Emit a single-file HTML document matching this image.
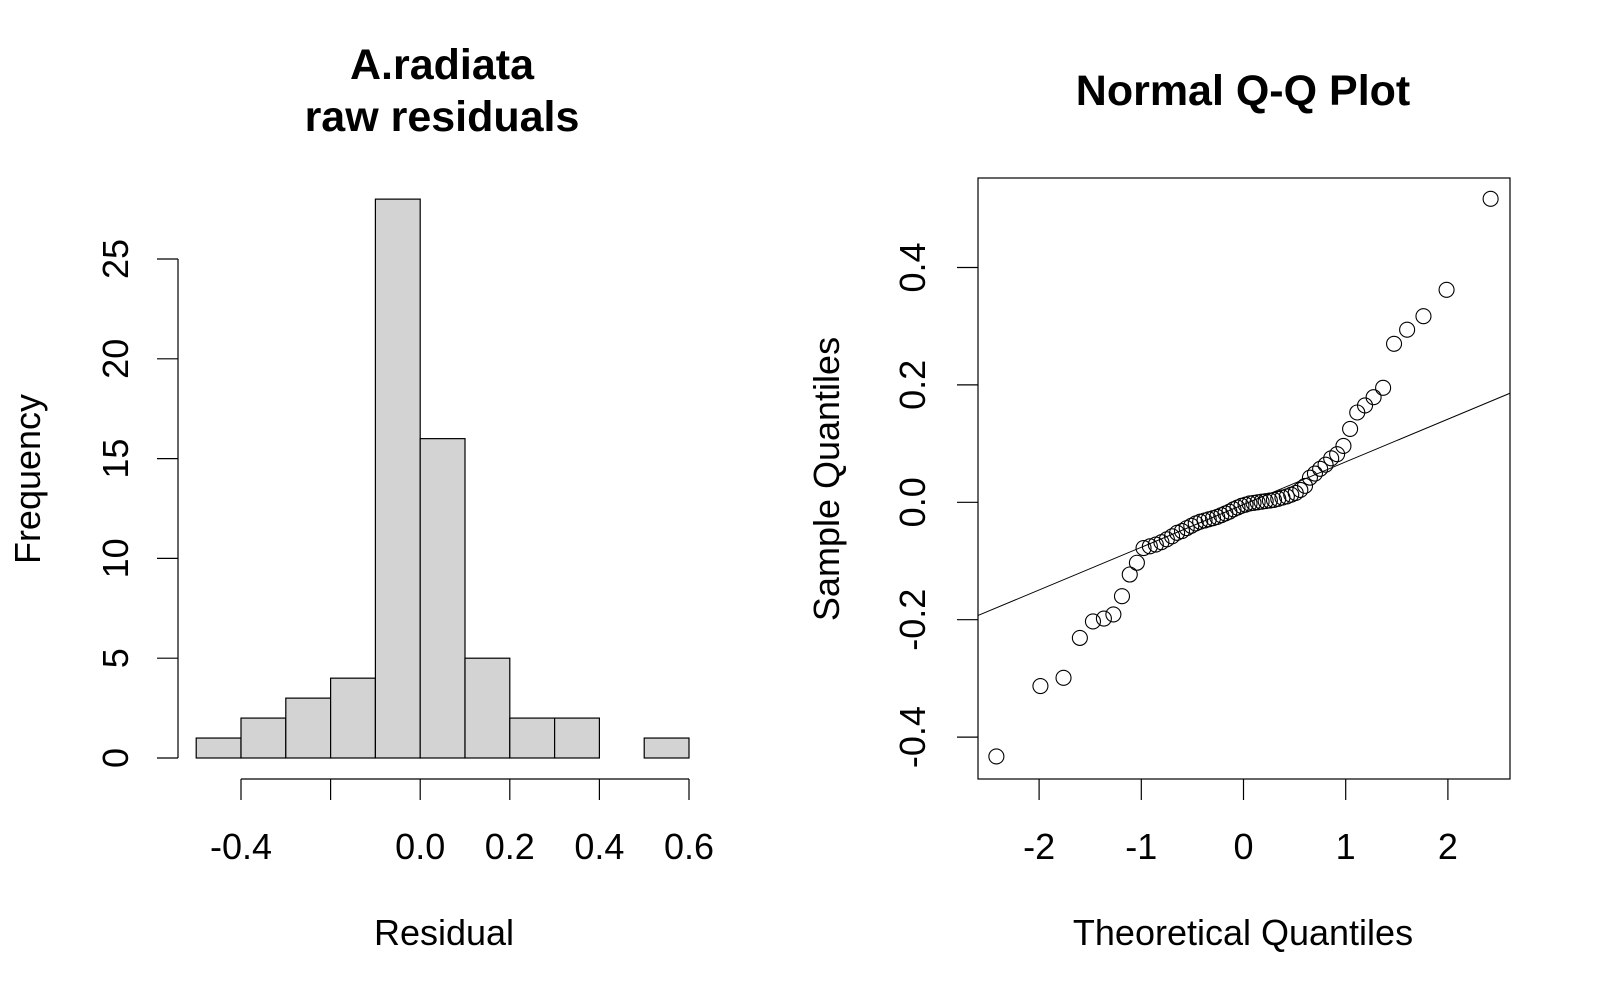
<!DOCTYPE html>
<html><head><meta charset="utf-8"><style>
html,body{margin:0;padding:0;background:#fff;}
svg{display:block;font-family:"Liberation Sans",Arial,sans-serif;}
</style></head><body>
<svg id="c" width="1600" height="1000" viewBox="0 0 1600 1000" xmlns="http://www.w3.org/2000/svg">
<g id="hist"></g>
<g id="qq"></g>
</svg>
<script>
// Histogram data
const binEdges = [-0.5,-0.4,-0.3,-0.2,-0.1,0.0,0.1,0.2,0.3,0.4,0.5,0.6];
const binCounts = [1,2,3,4,28,16,5,2,2,0,1];
const histXTicks = [-0.4,-0.2,0.0,0.2,0.4,0.6];
const histXTickLabels = ["-0.4","","0.0","0.2","0.4","0.6"];
const histYTicks = [0,5,10,15,20,25];
// QQ data
const qqTheoLower = [-2.418,-1.987,-1.761,-1.601,-1.473,-1.366,-1.273,-1.189,-1.113,-1.043,-0.978,-0.916,-0.858,-0.803,-0.750,-0.699,-0.650,-0.602,-0.556,-0.511,-0.467,-0.424,-0.381,-0.340,-0.298,-0.258,-0.217,-0.177,-0.138,-0.098,-0.059,-0.020];
const qqSample = [-0.433,-0.313,-0.299,-0.231,-0.203,-0.198,-0.191,-0.160,-0.123,-0.103,-0.078,
 -0.075,-0.072,-0.068,-0.063,-0.058,-0.052,-0.049,-0.044,-0.040,-0.036,-0.033,-0.031,-0.029,-0.027,-0.025,-0.022,-0.019,-0.016,-0.012,-0.009,-0.006,-0.004,-0.002,-0.001,0.000,0.001,0.002,0.003,0.004,0.006,0.008,0.010,0.013,0.016,
 0.021,0.028,0.042,0.049,0.057,0.064,0.075,0.082,0.096,0.125,0.153,0.165,0.179,0.195,0.270,0.294,0.317,0.362,0.517];
const qqLineX = [-2.6,2.61];
const qqLineY = [-0.193,0.186];
const qqXTicks = [-2,-1,0,1,2];
const qqYTicks = [-0.4,-0.2,0.0,0.2,0.4];
const qqYTickLabels = ["-0.4","-0.2","0.0","0.2","0.4"];

const NS="http://www.w3.org/2000/svg";
function mk(parent,tag,attrs,text){const e=document.createElementNS(NS,tag);for(const k in attrs)e.setAttribute(k,attrs[k]);if(text!==undefined)e.textContent=text;parent.appendChild(e);return e;}
const FS=36, TFS=43;

// ---- Histogram ----
const H=document.getElementById('hist');
const hx=v=>241+(v+0.4)*448;
const hy=v=>758-v*19.96;
binCounts.forEach((c,i)=>{
  const r=mk(H,'rect',{x:hx(binEdges[i]),y:hy(c),width:hx(binEdges[i+1])-hx(binEdges[i]),height:hy(0)-hy(c),fill:'#d3d3d3',stroke:'#000','stroke-width':1.2});
  
  
});
let l=mk(H,'line',{x1:hx(-0.4),x2:hx(0.6),y1:779,y2:779,stroke:'#000','stroke-width':1.2});


histXTicks.forEach((t,i)=>{
  mk(H,'line',{x1:hx(t),x2:hx(t),y1:779,y2:800,stroke:'#000','stroke-width':1.2});
  if(histXTickLabels[i]){
    const tx=mk(H,'text',{x:hx(t),y:859,'font-size':FS,'text-anchor':'middle'},histXTickLabels[i]);
    
    
  }
});
l=mk(H,'line',{x1:178,x2:178,y1:hy(0),y2:hy(25),stroke:'#000','stroke-width':1.2});


histYTicks.forEach(t=>{
  mk(H,'line',{x1:157,x2:178,y1:hy(t),y2:hy(t),stroke:'#000','stroke-width':1.2});
  const tx=mk(H,'text',{x:0,y:0,'font-size':FS,'text-anchor':'middle',transform:`translate(128,${hy(t)}) rotate(-90)`},String(t));
  
  
});
let t=mk(H,'text',{x:444,y:945,'font-size':FS,'text-anchor':'middle'},'Residual');


t=mk(H,'text',{x:0,y:0,'font-size':FS,'text-anchor':'middle',transform:'translate(40,479) rotate(-90)'},'Frequency');


t=mk(H,'text',{x:442,y:79,'font-size':TFS,'font-weight':'bold','text-anchor':'middle'},'A.radiata');


t=mk(H,'text',{x:442,y:131,'font-size':TFS,'font-weight':'bold','text-anchor':'middle'},'raw residuals');



// ---- QQ plot ----
const Q=document.getElementById('qq');
const qx=v=>1243.5+v*102.2;
const qy=v=>502.3-v*587;
const theo=qqTheoLower.concat(qqTheoLower.slice().reverse().map(v=>-v));
let b=mk(Q,'rect',{x:978,y:178,width:532,height:601,fill:'none',stroke:'#000','stroke-width':1.2});


qqXTicks.forEach(v=>{
  mk(Q,'line',{x1:qx(v),x2:qx(v),y1:779,y2:800,stroke:'#000','stroke-width':1.2});
  const tx=mk(Q,'text',{x:qx(v),y:859,'font-size':FS,'text-anchor':'middle'},String(v));
  
  
});
qqYTicks.forEach((v,i)=>{
  mk(Q,'line',{x1:957,x2:978,y1:qy(v),y2:qy(v),stroke:'#000','stroke-width':1.2});
  const tx=mk(Q,'text',{x:0,y:0,'font-size':FS,'text-anchor':'middle',transform:`translate(925,${qy(v)}) rotate(-90)`},qqYTickLabels[i]);
  
  
});
l=mk(Q,'line',{x1:qx(qqLineX[0]),y1:qy(qqLineY[0]),x2:qx(qqLineX[1]),y2:qy(qqLineY[1]),stroke:'#000','stroke-width':1});


qqSample.forEach((s,i)=>{
  const c=mk(Q,'circle',{cx:qx(theo[i]),cy:qy(s),r:7.5,fill:'none',stroke:'#000','stroke-width':1.1});
  
  
});
t=mk(Q,'text',{x:1243,y:945,'font-size':FS,'text-anchor':'middle'},'Theoretical Quantiles');


t=mk(Q,'text',{x:0,y:0,'font-size':FS,'text-anchor':'middle',transform:'translate(839,479) rotate(-90)'},'Sample Quantiles');


t=mk(Q,'text',{x:1243,y:105,'font-size':TFS,'font-weight':'bold','text-anchor':'middle'},'Normal Q-Q Plot');


</script>
</body></html>
